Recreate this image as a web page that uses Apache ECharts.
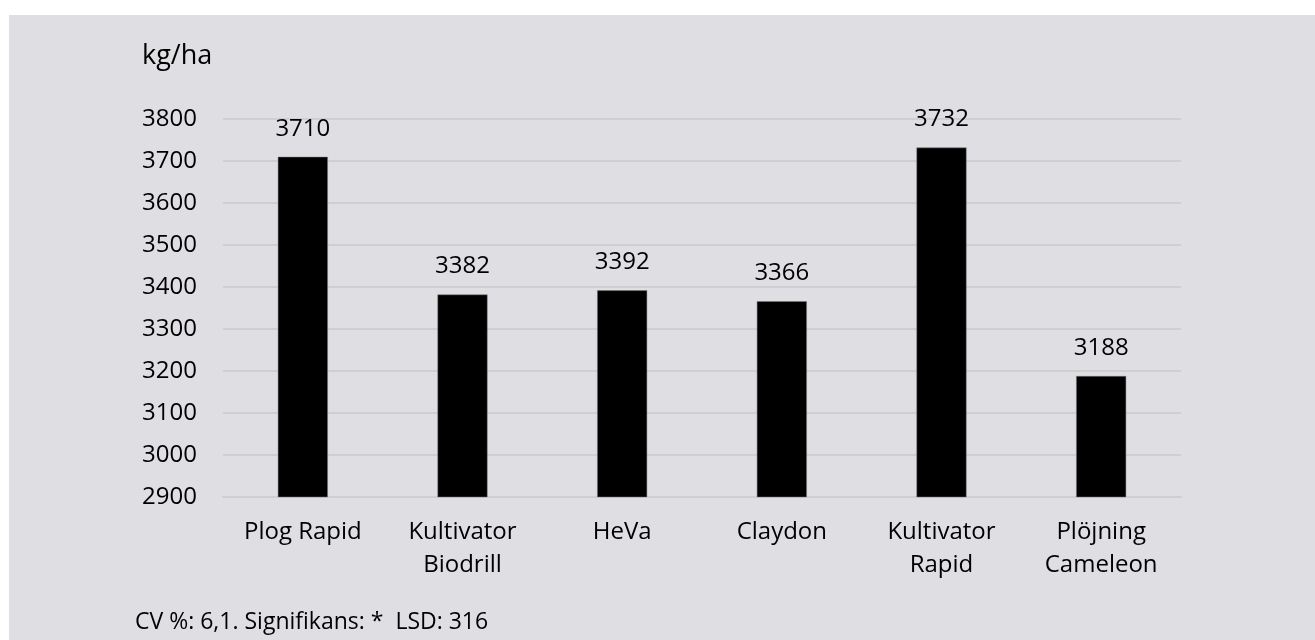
<!DOCTYPE html>
<html>
<head>
<meta charset="utf-8">
<script src="https://cdn.jsdelivr.net/npm/echarts@6/dist/echarts.min.js"></script>
<style>
html,body{margin:0;padding:0;background:#ffffff;}
#chart{width:1315px;height:640px;}
</style>
</head>
<body>
<div id="chart"></div>
<script>
const categories = ['Plog Rapid', 'Kultivator\nBiodrill', 'HeVa', 'Claydon', 'Kultivator\nRapid', 'Plöjning\nCameleon'];
const yields = [3710, 3382, 3392, 3366, 3732, 3188];
const yMin = 2900, yMax = 3800, yStep = 100;
const unitLabel = 'kg/ha';
const footnote = 'CV %: 6,1. Signifikans: *  LSD: 316';

const FONT = '"Open Sans", "Noto Sans", sans-serif';
const chart = echarts.init(document.getElementById('chart'), null, {renderer: 'canvas'});
chart.setOption({
  backgroundColor: '#ffffff',
  animation: false,
  graphic: [
    {type: 'rect', left: 9, top: 15, shape: {width: 1306, height: 625}, style: {fill: '#dfdee3'}, z: -10, silent: true},
    {type: 'text', left: 142, top: 43, style: {text: unitLabel, font: '27px ' + FONT, fill: '#000'}, z: 10},
    {type: 'text', left: 135, top: 611, style: {text: footnote, font: '23px ' + FONT, fill: '#000'}, z: 10}
  ],
  grid: {left: 223, right: 134, top: 119, bottom: 143, containLabel: false},
  xAxis: {
    type: 'category',
    data: categories,
    axisLine: {show: true, lineStyle: {color: '#cfcfd0', width: 2}},
    axisTick: {show: false},
    axisLabel: {color: '#000', fontSize: 24, fontFamily: FONT, lineHeight: 33, margin: 19, interval: 0}
  },
  yAxis: {
    type: 'value',
    min: yMin, max: yMax, interval: yStep,
    axisLine: {show: false},
    axisTick: {show: false},
    splitLine: {lineStyle: {color: '#cfcfd0', width: 2}},
    axisLabel: {color: '#000', fontSize: 24, fontFamily: FONT, margin: 26, formatter: function (v) { return String(v); }}
  },
  series: [{
    type: 'bar',
    data: yields,
    barWidth: 50,
    itemStyle: {color: '#000000', borderColor: '#7a7a7a', borderWidth: 0.5},
    label: {show: true, position: 'top', distance: 16, color: '#000', fontSize: 24, fontFamily: FONT}
  }]
});
</script>
</body>
</html>
